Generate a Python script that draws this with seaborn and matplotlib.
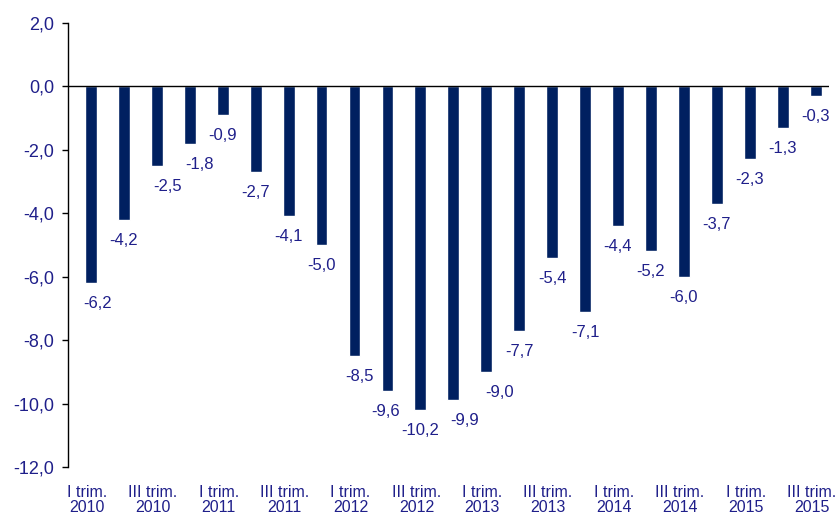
import matplotlib
matplotlib.use("Agg")
import matplotlib.pyplot as plt
import matplotlib.transforms as mtransforms
import seaborn as sns
import pandas as pd

# Quarterly change, 2010-2015
quarters = [
    "I trim.\n2010", "II trim.\n2010", "III trim.\n2010", "IV trim.\n2010",
    "I trim.\n2011", "II trim.\n2011", "III trim.\n2011", "IV trim.\n2011",
    "I trim.\n2012", "II trim.\n2012", "III trim.\n2012", "IV trim.\n2012",
    "I trim.\n2013", "II trim.\n2013", "III trim.\n2013", "IV trim.\n2013",
    "I trim.\n2014", "II trim.\n2014", "III trim.\n2014", "IV trim.\n2014",
    "I trim.\n2015", "II trim.\n2015", "III trim.\n2015",
]
values = [-6.2, -4.2, -2.5, -1.8, -0.9, -2.7, -4.1, -5.0, -8.5, -9.6, -10.2, -9.9,
          -9.0, -7.7, -5.4, -7.1, -4.4, -5.2, -6.0, -3.7, -2.3, -1.3, -0.3]
y_ticks = [2, 0, -2, -4, -6, -8, -10, -12]

BAR = "#002060"
TEXT = "#1F1F8A"

# Horizontal nudges (points) for value labels that sit beside their bar
label_nudge = {0: 4.5, 2: 8, 3: 7, 8: 3.5, 9: -1.5, 11: 8, 12: 9.5}

sns.set_theme(style="white")
plt.rcParams["font.family"] = ["Liberation Sans", "DejaVu Sans"]

df = pd.DataFrame({"quarter": quarters, "value": values})

fig = plt.figure(figsize=(8.38, 5.15), dpi=100)
ax = fig.add_axes([0.0811, 0.0932, 0.989 - 0.0811, 0.9553 - 0.0932])

sns.barplot(data=df, x="quarter", y="value", order=quarters, color=BAR,
            saturation=1, width=0.36, ax=ax)

for i, bar in enumerate(ax.containers[0]):
    v = values[i]
    x = bar.get_x() + bar.get_width() / 2
    ax.annotate(f"{v:.1f}".replace(".", ","), xy=(x, v),
                xytext=(label_nudge.get(i, 0), -18), textcoords="offset points",
                ha="center", va="baseline", fontsize=12, color=TEXT)

ax.axhline(0, color="black", lw=1.0, zorder=3)

ax.set_ylim(-12, 2)
ax.set_xlim(-0.7, len(quarters) - 1 + 0.4)
ax.set_yticks(y_ticks)
ax.set_yticklabels([f"{t:.1f}".replace(".", ",") for t in y_ticks])
ax.tick_params(axis="y", direction="out", length=4, width=1, color="black",
               labelsize=13, labelcolor=TEXT, pad=6, left=True)

shown = list(range(0, len(quarters), 2))
ax.set_xticks(shown)
ax.set_xticklabels([quarters[i] for i in shown], linespacing=1.0)
ax.tick_params(axis="x", length=0, labelsize=11.5, labelcolor=TEXT, pad=13)
shift = mtransforms.ScaledTranslation(-4 / 100, 0, fig.dpi_scale_trans)
for lab in ax.get_xticklabels():
    lab.set_transform(lab.get_transform() + shift)

ax.set_xlabel("")
ax.set_ylabel("")
for side in ["top", "right", "bottom"]:
    ax.spines[side].set_visible(False)
ax.spines["left"].set_color("black")
ax.spines["left"].set_linewidth(1.0)

fig.savefig("out.png", dpi=100)
